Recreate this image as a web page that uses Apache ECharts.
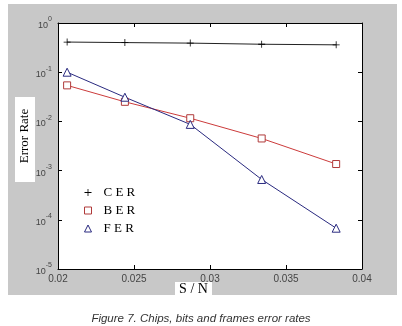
<!DOCTYPE html>
<html lang="en">
<head>
  <meta charset="UTF-8">
  <title>Chips, bits and frames error rates</title>
  <script src="https://cdn.jsdelivr.net/npm/echarts@6/dist/echarts.min.js"></script>
  <style>
    html, body { margin: 0; padding: 0; background: #fff; }
    #main { width: 402px; height: 326px; }
  </style>
</head>
<body>
  <div id="main"></div>
<script>
  // S/N positions of the five measurements
  let snr = [0.0206, 0.0244, 0.0287, 0.0334, 0.0383]
  // error rates
  let cer = [0.41, 0.40, 0.39, 0.37, 0.36]
  let ber = [0.054, 0.025, 0.0116, 0.0045, 0.00136]
  let fer = [0.1, 0.031, 0.0087, 0.00066, 0.0000675]
  let xTicks = [0.02, 0.025, 0.03, 0.035, 0.04]

  let plusIcon = 'path://M4,0h1v4h4v1h-4v4h-1v-4h-4v-1h4z'

  function pairs(ys) {
    return ys.map(function (y, i) { return [snr[i], y] })
  }

  function supLabel(v) {
    let e = Math.round(Math.log10(v))
    return '{b|10}{s|' + e + '}'
  }

  initChart()

  function initChart() {
    let myChart = echarts.init(document.getElementById('main'))
    let tickStyle = { show: true, inside: true, length: 4, lineStyle: { color: '#000' } }
    let option = {
      animation: false,
      backgroundColor: '#fff',
      grid: {
        left: 58, top: 23, right: 40, bottom: 57,
        show: true, backgroundColor: '#fff', borderWidth: 0
      },
      graphic: [
        { type: 'rect', z: -10, shape: { x: 8, y: 4, width: 389, height: 291 }, style: { fill: '#c8c8c8' } },
        { type: 'rect', z: 100, shape: { x: 15, y: 97, width: 20, height: 85 }, style: { fill: '#fff' } },
        {
          type: 'text', z: 101, x: 25, y: 136, rotation: Math.PI / 2,
          style: { text: 'Error Rate', font: '13px "Liberation Serif", serif', fill: '#000', align: 'center', verticalAlign: 'middle' }
        },
        { type: 'rect', z: 100, shape: { x: 175, y: 282, width: 37, height: 13 }, style: { fill: '#fff' } },
        {
          type: 'text', z: 101, x: 193.5, y: 289,
          style: { text: 'S / N', font: '14px "Liberation Serif", serif', fill: '#000', align: 'center', verticalAlign: 'middle' }
        },
        {
          type: 'text', z: 101, x: 201, y: 319,
          style: { text: 'Figure 7. Chips, bits and frames error rates', font: 'italic 11.5px "Liberation Sans", Arial, sans-serif', fill: '#333', align: 'center', verticalAlign: 'middle' }
        }
      ],
      legend: {
        orient: 'vertical',
        left: 79, top: 181,
        itemWidth: 7, itemHeight: 7, itemGap: 5,
        formatter: function (name) { return name.split('').join(' ') },
        textStyle: { fontFamily: '"Liberation Serif", serif', fontSize: 13, color: '#000', padding: [0, 0, 0, 7] },
        data: [
          { name: 'CER', icon: plusIcon, itemStyle: { color: '#000', borderWidth: 0 } },
          { name: 'BER', icon: 'rect', itemStyle: { color: '#fff', borderColor: '#b03a3a', borderWidth: 1 } },
          { name: 'FER', icon: 'triangle', itemStyle: { color: '#fff', borderColor: '#2a2a80', borderWidth: 1 } }
        ]
      },
      xAxis: [{
        type: 'value', min: xTicks[0], max: xTicks[xTicks.length - 1], interval: 0.005,
        axisLine: { lineStyle: { color: '#000' } },
        axisTick: tickStyle,
        splitLine: { show: false },
        axisLabel: { color: '#444', fontSize: 10, margin: 5, fontFamily: 'Arial, sans-serif' }
      }, {
        type: 'value', position: 'top', min: xTicks[0], max: xTicks[xTicks.length - 1], interval: 0.005,
        axisLine: { lineStyle: { color: '#000' } },
        axisTick: tickStyle,
        splitLine: { show: false },
        axisLabel: { show: false }
      }],
      yAxis: [{
        type: 'log', logBase: 10, min: 1e-5, max: 1,
        axisLine: { show: true, lineStyle: { color: '#000' } },
        axisTick: tickStyle,
        minorTick: { show: false },
        splitLine: { show: false },
        axisLabel: {
          margin: 6,
          formatter: supLabel,
          rich: {
            b: { fontSize: 9, color: '#444', fontFamily: 'Arial, sans-serif', lineHeight: 14, verticalAlign: 'bottom' },
            s: { fontSize: 7, color: '#444', fontFamily: 'Arial, sans-serif', lineHeight: 8, verticalAlign: 'top' }
          }
        }
      }, {
        type: 'log', logBase: 10, min: 1e-5, max: 1, position: 'right',
        axisLine: { show: true, lineStyle: { color: '#000' } },
        axisTick: tickStyle,
        splitLine: { show: false },
        axisLabel: { show: false }
      }],
      series: [{
        name: 'CER', type: 'line', data: pairs(cer),
        symbol: plusIcon, symbolSize: 7,
        lineStyle: { color: '#222', width: 1 },
        itemStyle: { color: '#000' }
      }, {
        name: 'BER', type: 'line', data: pairs(ber),
        symbol: 'rect', symbolSize: 7,
        lineStyle: { color: '#cc3b3b', width: 1 },
        itemStyle: { color: '#fff', borderColor: '#b03a3a', borderWidth: 1 }
      }, {
        name: 'FER', type: 'line', data: pairs(fer),
        symbol: 'triangle', symbolSize: 8,
        lineStyle: { color: '#2a2a80', width: 1 },
        itemStyle: { color: '#fff', borderColor: '#2a2a80', borderWidth: 1 }
      }]
    }
    myChart.setOption(option)
  }
</script>
</body>
</html>
